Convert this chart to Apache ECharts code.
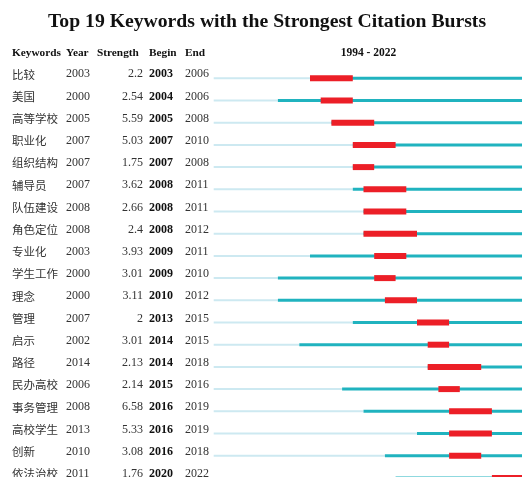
<!DOCTYPE html>
<html>
<head>
<meta charset="utf-8">
<script src="https://cdn.jsdelivr.net/npm/echarts@6/dist/echarts.min.js"></script>
<style>
html,body{margin:0;padding:0;background:#ffffff;}
#main{width:522px;height:477px;}
</style>
</head>
<body>
<div id="main"></div>
<script>
var titleText = 'Top 19 Keywords with the Strongest Citation Bursts';
var columnHeaders = ['Keywords', 'Year', 'Strength', 'Begin', 'End'];
var rangeLabel = '1994 - 2022';
var startYear = 1994;
var endYear = 2022;

var keywords = ['比较','美国','高等学校','职业化','组织结构','辅导员','队伍建设','角色定位','专业化','学生工作','理念','管理','启示','路径','民办高校','事务管理','高校学生','创新','依法治校'];
var years = [2003,2000,2005,2007,2007,2007,2008,2008,2003,2000,2000,2007,2002,2014,2006,2008,2013,2010,2011];
var strengths = [2.2,2.54,5.59,5.03,1.75,3.62,2.66,2.4,3.93,3.01,3.11,2,3.01,2.13,2.14,6.58,5.33,3.08,1.76];
var begins = [2003,2004,2005,2007,2007,2008,2008,2008,2009,2009,2010,2013,2014,2014,2015,2016,2016,2016,2020];
var ends = [2006,2006,2008,2010,2008,2011,2011,2012,2011,2010,2012,2015,2015,2018,2016,2019,2019,2018,2022];

var rows = keywords.map(function (k, i) {
  return [i, years[i], strengths[i], begins[i], ends[i]];
});

var SERIF = '"Liberation Serif","Times New Roman",serif';
var CJK = '"Noto Sans CJK SC","Noto Sans",sans-serif';
var LIGHT = '#cde9f1';
var TEAL = '#20b3bf';
var RED = '#ec1f27';
var TXT = '#333333';

var chart = echarts.init(document.getElementById('main'), null, {renderer: 'canvas'});

var colX = [12, 66, 143, 149, 185];

var graphics = [{
  type: 'text', left: 48, top: 12,
  style: {text: titleText, font: 'bold 19.7px ' + SERIF, fill: '#111111'}
}, {
  type: 'text', x: 368.5, y: 53,
  style: {text: rangeLabel, font: 'bold 11.5px ' + SERIF, fill: '#111111', textAlign: 'center', textVerticalAlign: 'middle'}
}];
columnHeaders.forEach(function (h, i) {
  graphics.push({
    type: 'text', x: i === 2 ? 97 : colX[i], y: 53,
    style: {text: h, font: 'bold 11.3px ' + SERIF, fill: '#111111', textAlign: 'left', textVerticalAlign: 'middle'}
  });
});

chart.setOption({
  backgroundColor: '#ffffff',
  animation: false,
  graphic: graphics,
  grid: {left: 213.7, top: 67.2, width: 310.3, height: 19 * 22.2, containLabel: false, outerBoundsMode: 'none'},
  xAxis: {type: 'value', min: startYear, max: endYear + 1, show: false},
  yAxis: {type: 'category', data: keywords, inverse: true, show: false},
  series: [{
    type: 'custom',
    coordinateSystem: 'cartesian2d',
    encode: {x: 1, y: 0},
    data: rows,
    clip: false,
    renderItem: function (params, api) {
      var i = api.value(0);
      var y0 = api.coord([startYear, i]);
      var yr = api.coord([api.value(1), i]);
      var bg = api.coord([api.value(3), i]);
      var ed = api.coord([api.value(4) + 1, i]);
      var fin = api.coord([endYear + 1, i]);
      var cy = y0[1];
      return {
        type: 'group',
        children: [{
          type: 'line',
          shape: {x1: y0[0], y1: cy, x2: yr[0], y2: cy},
          style: {stroke: LIGHT, lineWidth: 2}
        }, {
          type: 'line',
          shape: {x1: yr[0], y1: cy, x2: fin[0], y2: cy},
          style: {stroke: TEAL, lineWidth: 3}
        }, {
          type: 'rect',
          shape: {x: bg[0], y: cy - 3, width: ed[0] - bg[0], height: 6},
          style: {fill: RED}
        }]
      };
    }
  }, {
    type: 'custom',
    coordinateSystem: 'cartesian2d',
    encode: {x: 1, y: 0},
    data: rows,
    clip: false,
    renderItem: function (params, api) {
      var i = api.value(0);
      var cy = api.coord([startYear, i])[1] - 4;
      var vals = [keywords[i], String(api.value(1)), String(api.value(2)), String(api.value(3)), String(api.value(4))];
      var children = vals.map(function (t, c) {
        return {
          type: 'text',
          x: colX[c], y: cy,
          style: {
            text: t,
            font: (c === 0 ? '11.5px ' + CJK : (c === 3 ? 'bold 12px ' : '12px ') + SERIF),
            fill: c === 3 ? '#111111' : TXT,
            textAlign: c === 2 ? 'right' : 'left',
            textVerticalAlign: 'middle'
          }
        };
      });
      return {type: 'group', children: children};
    }
  }]
});
</script>
</body>
</html>
